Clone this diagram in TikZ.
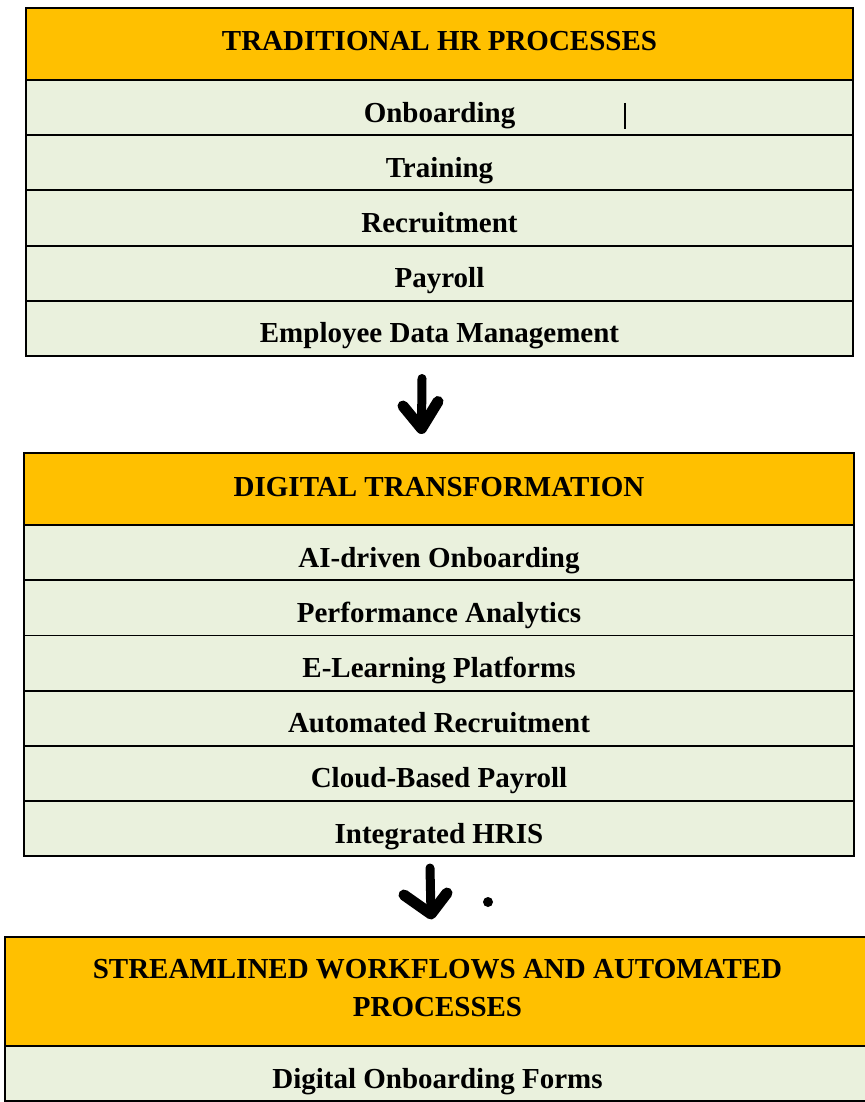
\documentclass[tikz,border=0pt]{standalone}
\usepackage{fontspec}
\setmainfont{Liberation Serif}
\usepackage{tikz}
\usetikzlibrary{positioning}
\definecolor{headgold}{HTML}{FFC000}
\definecolor{rowgreen}{HTML}{EAF1DD}
\tikzset{
    every node/.append style={font=\bfseries\fontsize{29}{38}\selectfont, outer sep=0pt, inner sep=0pt}
}
\tikzset{
    head/.style={shape=rectangle, draw=black, line width=1.8pt, fill=headgold, minimum height=72pt, text height=20pt, text depth=6pt},
    cell/.style={shape=rectangle, draw=black, line width=1.8pt, fill=rowgreen, minimum height=55.2pt, text height=29pt, text depth=0pt},
    penstroke/.style={line width=9pt, line cap=round, line join=round},
    penhead/.style={line width=11pt, line cap=round, line join=round},
}

\begin{document}
\begin{tikzpicture}[x=1pt, y=-1pt]
		\useasboundingbox (0,0) rectangle (864,1102);
		% traditional processes
		\node[head, minimum width=827pt] (T) at (439.5,44) {TRADITIONAL HR PROCESSES};
		\node[cell, minimum width=827pt, below=0pt of T] (T1) {Onboarding};
		\node[cell, minimum width=827pt, below=0pt of T1] (T2) {Training};
		\node[cell, minimum width=827pt, below=0pt of T2] (T3) {Recruitment};
		\node[cell, minimum width=827pt, below=0pt of T3] (T4) {Payroll};
		\node[cell, minimum width=827pt, below=0pt of T4] (T5) {Employee Data Management};
		\coordinate (bartop) at (625,103);
		\coordinate (barbot) at (625,129);
		\draw[line width=2.6pt] (bartop) -- (barbot);
		
		% digital transformation
		\node[head, minimum width=830pt] (D) at (439,489) {DIGITAL TRANSFORMATION};
		\node[cell, minimum width=830pt, below=0pt of D] (D1) {AI-driven Onboarding};
		\node[cell, minimum width=830pt, below=0pt of D1] (D2) {Performance Analytics};
		\node[cell, minimum width=830pt, below=0pt of D2] (D3) {E-Learning Platforms};
		\node[cell, minimum width=830pt, below=0pt of D3] (D4) {Automated Recruitment};
		\node[cell, minimum width=830pt, below=0pt of D4] (D5) {Cloud-Based Payroll};
		\node[cell, minimum width=830pt, below=0pt of D5] (D6) {Integrated HRIS};
		
		% streamlined workflows
		\node[head, minimum width=865pt, minimum height=109pt, align=center, text height=, text depth=7pt] (S) at (437.5,991.5) {STREAMLINED WORKFLOWS AND AUTOMATED\\PROCESSES};
		\node[cell, minimum width=865pt, minimum height=55pt, below=0pt of S] (S1) {Digital Onboarding Forms};
		
		% hand drawn arrows
		\coordinate (a1top) at (422,378.5);
		\coordinate (a1tip) at (421.5,428.5);
		\coordinate (a1left) at (403,406);
		\coordinate (a1right) at (438,401.5);
		\draw[penstroke] (a1top) -- (a1tip);
		\draw[penhead] (a1left) -- (a1tip) -- (a1right);
		
		\coordinate (a2top) at (430,868);
		\coordinate (a2tip) at (431,914);
		\coordinate (a2left) at (404,895);
		\coordinate (a2right) at (447,893);
		\draw[penstroke] (a2top) -- (a2tip);
		\draw[penhead] (a2left) -- (a2tip) -- (a2right);
		\fill (488,902) circle (5pt);
\end{tikzpicture}
\end{document}
